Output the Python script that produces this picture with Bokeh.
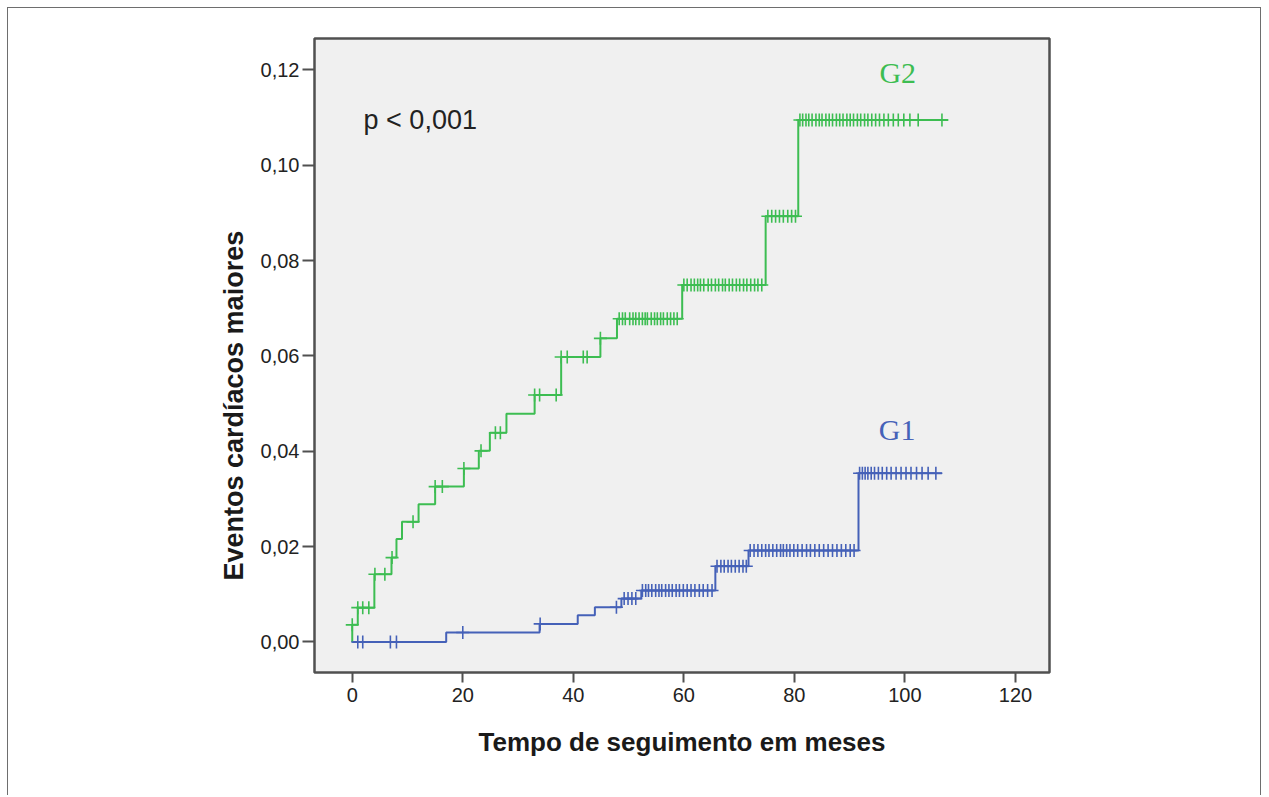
import numpy as np
from bokeh.plotting import figure
from bokeh.models import FixedTicker, CustomJSTickFormatter, Label, Range1d, Title
from bokeh.embed import file_html
from bokeh.resources import INLINE

# ---------------- data ----------------
x_ticks = [0, 20, 40, 60, 80, 100, 120]
y_ticks = [0.0, 0.02, 0.04, 0.06, 0.08, 0.10, 0.12]

g2_times = [0.0, 0.0, 1.0, 4.0, 7.1, 8.0, 9.0, 12.0, 15.0, 20.2, 22.9, 24.9, 27.9,
            33.0, 37.8, 44.9, 47.9, 59.7, 74.8, 80.7, 107.8]
g2_values = [0.0, 0.0036, 0.0072, 0.0142, 0.0177, 0.0216, 0.0252, 0.0289, 0.0326,
             0.0364, 0.0401, 0.0439, 0.0479, 0.0518, 0.0598, 0.0637, 0.0678,
             0.0749, 0.0893, 0.1095, 0.1095]
g2_censored = [0.0, 1.0, 1.9, 3.0, 4.1, 5.9, 7.2, 11.0, 15.0, 16.3, 20.2, 23.3,
               25.9, 26.8, 33.0, 33.9, 36.9, 37.8, 38.9, 41.8, 42.5, 44.9,
               48.3, 48.9, 49.4, 50.2, 50.8, 51.3, 51.9, 52.5, 53.0, 53.4, 54.1,
               54.7, 55.2, 55.8, 56.3, 57.0, 57.6, 58.2, 58.8,
               60.0, 60.6, 61.3, 61.9, 62.5, 63.0, 63.6, 64.4, 65.0, 65.7, 66.3,
               67.0, 67.5, 68.2, 68.8, 69.5, 70.1, 70.8, 71.4, 72.1, 72.8, 73.4, 74.1,
               75.2, 75.9, 76.6, 77.3, 78.0, 78.8, 79.5, 80.2,
               81.0, 81.5, 82.1, 82.6, 83.2, 83.9, 84.5, 85.0, 85.7, 86.3, 86.9,
               87.6, 88.2, 88.8, 89.5, 90.1, 90.7, 91.4, 92.0, 92.7, 93.3, 94.0,
               94.7, 95.4, 96.2, 97.0, 97.9, 98.8, 99.8, 100.9, 102.4, 106.7]

g1_times = [0.0, 17.0, 33.9, 40.8, 43.9, 48.7, 52.3, 65.7, 71.7, 91.6, 106.7]
g1_values = [0.0, 0.0020, 0.0038, 0.0056, 0.0073, 0.0091, 0.0108, 0.0159, 0.0192,
             0.0354, 0.0354]
g1_censored = [1.0, 1.9, 6.9, 8.0, 20.0, 34.0, 47.8, 49.2, 49.9, 50.6, 51.3,
               52.5, 53.1, 53.6, 54.2, 54.9, 55.5, 56.0, 56.7, 57.3, 57.9, 58.6,
               59.2, 59.9, 60.6, 61.3, 62.0, 62.8, 63.5, 64.3, 65.1,
               66.0, 66.7, 67.3, 68.0, 68.6, 69.3, 70.0, 70.7, 71.3,
               72.0, 72.7, 73.4, 74.1, 74.8, 75.4, 76.1, 76.8, 77.5, 78.0, 78.6,
               79.2, 79.9, 80.6, 81.4, 82.2, 82.9, 83.7, 84.5, 85.3, 86.1, 86.9,
               87.7, 88.5, 89.3, 90.1, 90.8,
               91.8, 92.3, 92.8, 93.3, 93.9, 94.5, 95.2, 95.9, 96.7, 97.5, 98.4,
               99.3, 100.2, 101.1, 102.1, 103.1, 104.2, 105.6]

x_title = "Tempo de seguimento em meses"
y_title = "Eventos cardíacos maiores"
p_text = "p < 0,001"

GREEN = "#3dbd52"
BLUE = "#4561b8"
SANS = "Liberation Sans"


def level_at(times, values, t):
    idx = np.searchsorted(np.asarray(times), np.asarray(t), side="right") - 1
    return np.asarray(values)[idx]


p = figure(width=1254, height=788, output_backend="svg", toolbar_location=None,
           x_range=Range1d(-6.83, 126.16), y_range=Range1d(-0.0064, 0.1266),
           min_border_left=306, min_border_right=213, min_border_top=30,
           min_border_bottom=124)
p.styles = {"margin": "7px 0 0 7px", "border": "1px solid #6e6e6e",
            "border-bottom": "none"}

p.background_fill_color = "#f0f0f0"
p.border_fill_color = "white"
p.outline_line_color = "#505050"
p.outline_line_width = 2.5
p.xgrid.visible = False
p.ygrid.visible = False

for ax in (p.xaxis[0], p.yaxis[0]):
    ax.axis_line_color = None
    ax.major_tick_line_color = "#505050"
    ax.major_tick_line_width = 2
    ax.major_tick_in = 0
    ax.minor_tick_line_color = None
    ax.major_label_text_font = SANS
    ax.major_label_text_font_size = "20px"
    ax.major_label_text_color = "#222222"

xa = p.xaxis[0]
xa.ticker = FixedTicker(ticks=x_ticks)
xa.major_tick_out = 10
xa.major_label_standoff = 5
xa.axis_label = x_title
xa.axis_label_text_font = SANS
xa.axis_label_text_font_size = "26px"
xa.axis_label_text_font_style = "bold"
xa.axis_label_text_color = "#1a1a1a"
xa.axis_label_standoff = 22

ya = p.yaxis[0]
ya.ticker = FixedTicker(ticks=y_ticks)
ya.major_tick_out = 12
ya.major_label_standoff = 3
ya.formatter = CustomJSTickFormatter(code="return tick.toFixed(2).replace('.', ',');")

p.add_layout(Title(text=y_title, align="left", offset=92, standoff=18,
                   text_font=SANS, text_font_size="27px", text_font_style="bold",
                   text_color="#1a1a1a"), "left")

# curves
p.step(g1_times, g1_values, mode="after", line_color=BLUE, line_width=2)
p.step(g2_times, g2_values, mode="after", line_color=GREEN, line_width=2)

p.scatter(g1_censored, level_at(g1_times, g1_values, g1_censored), marker="cross",
          size=13, line_color=BLUE, line_width=1.6)
p.scatter(g2_censored, level_at(g2_times, g2_values, g2_censored), marker="cross",
          size=13, line_color=GREEN, line_width=1.6)

# texts inside the plot area
p.add_layout(Label(x=2.05, y=0.1095, text=p_text, text_font=SANS,
                   text_font_size="27px", text_color="#222222",
                   text_baseline="alphabetic", text_align="left"))
p.add_layout(Label(x=98.7, y=0.1194, text="G2", text_font="Liberation Serif",
                   text_font_size="30px", text_color=GREEN,
                   text_baseline="alphabetic", text_align="center"))
p.add_layout(Label(x=98.6, y=0.0446, text="G1", text_font="Liberation Serif",
                   text_font_size="30px", text_color=BLUE,
                   text_baseline="alphabetic", text_align="center"))

open("out.html", "w").write(file_html(p, INLINE))
